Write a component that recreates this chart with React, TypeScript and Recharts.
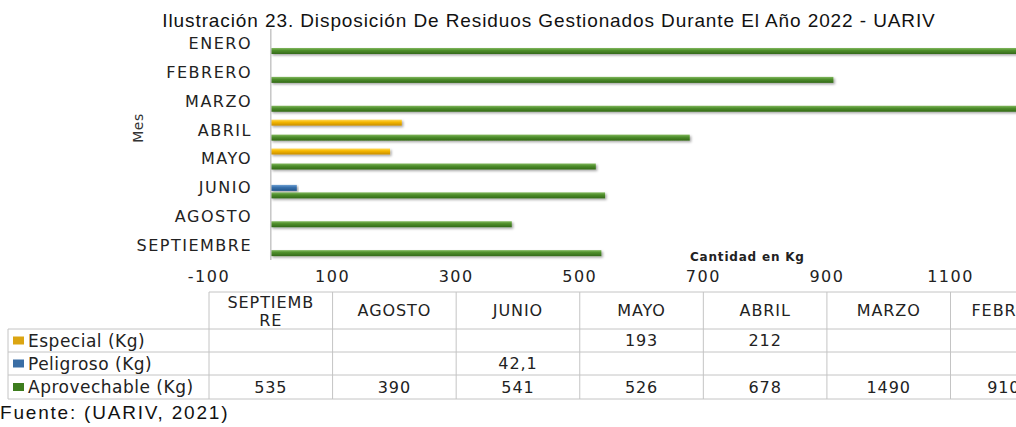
import React from 'react';
import { BarChart, Bar, XAxis, YAxis, ReferenceLine } from 'recharts';

// values (kg per month)
const months = ['ENERO', 'FEBRERO', 'MARZO', 'ABRIL', 'MAYO', 'JUNIO', 'AGOSTO', 'SEPTIEMBRE'];
const especial = [null, null, null, 212, 193, null, null, null];
const peligroso = [null, null, null, null, null, 42.1, null, null];
const aprovechable = [1400, 910.5, 1490, 678, 526, 541, 390, 535];
const xTicks = [-100, 100, 300, 500, 700, 900, 1100];

const series = [
  { key: 'especial', name: 'Especial (Kg)', values: especial, grad: 'gOrange', swatch: '#dba512' },
  { key: 'peligroso', name: 'Peligroso (Kg)', values: peligroso, grad: 'gBlue', swatch: '#3a6ea5' },
  { key: 'aprovechable', name: 'Aprovechable (Kg)', values: aprovechable, grad: 'gGreen', swatch: '#3d7d1e' },
];

const data = months.map((mes, i) => ({
  mes,
  especial: especial[i],
  peligroso: peligroso[i],
  aprovechable: aprovechable[i],
}));

const W = 1016;
const H = 427;
const PLOT_LEFT = 209;
const PLOT_TOP = 29;
const PLOT_H = 231;
const CHART_H = 300;
const X_MIN = -100;
const X_MAX = 1206;

const TICK_FONT = { fontFamily: '"DejaVu Sans", Verdana, sans-serif', fontSize: 16, fill: '#222', letterSpacing: 1.5 };

const fmt = (v: number | null) => (v == null ? '' : String(v).replace('.', ','));

const BarShape = (props: any) => {
  const { x, y, width, height, fill } = props;
  if (!width || width <= 0) return null;
  return <rect x={x} y={y} width={width} height={height} fill={fill} filter="url(#barShadow)" />;
};

const MonthTick = (props: any) => {
  const { x, y, payload } = props;
  return (
    <text x={x + 43} y={y} textAnchor="end" dominantBaseline="central" style={TICK_FONT as any}>
      {payload.value}
    </text>
  );
};

// data table under the chart, columns follow the x scale
const DataTable = () => {
  const colW = ((W - PLOT_LEFT) / (X_MAX - X_MIN)) * 200;
  const cols = [...months].reverse();
  const top = 292;
  const rows = [329, 352, 375, 399];
  const line = '#c4c4c4';
  const font = { fontFamily: '"DejaVu Sans", Verdana, sans-serif', fontSize: 16, fill: '#222', letterSpacing: 0.9 };
  const labelFont = { ...font, fontSize: 17, letterSpacing: 0.5 };
  return (
    <g>
      <line x1={PLOT_LEFT} x2={W} y1={top} y2={top} stroke={line} />
      {rows.map((ry) => (
        <line key={ry} x1={8} x2={W} y1={ry} y2={ry} stroke={line} />
      ))}
      <line x1={8} x2={8} y1={rows[0]} y2={rows[3]} stroke={line} />
      {cols.map((_, k) => (
        <line key={k} x1={PLOT_LEFT + k * colW} x2={PLOT_LEFT + k * colW} y1={top} y2={rows[3]} stroke={line} />
      ))}
      {cols.map((m, k) => {
        const cx = PLOT_LEFT + k * colW + colW / 2;
        const parts = m.length > 8 ? [m.slice(0, 8), m.slice(8)] : [m];
        return (
          <text key={m} x={cx} textAnchor="middle" style={font as any}>
            {parts.map((p, j) => (
              <tspan key={j} x={cx} y={parts.length > 1 ? 308 + j * 18 : 316}>
                {p}
              </tspan>
            ))}
          </text>
        );
      })}
      {series.map((s, r) => {
        const cy = (rows[r] + rows[r + 1]) / 2;
        return (
          <g key={s.key}>
            <rect x={13} y={cy - 4} width={11} height={8} fill={s.swatch} />
            <text x={28} y={cy} dominantBaseline="central" style={labelFont as any}>
              {s.name}
            </text>
            {cols.map((m, k) => {
              const v = s.values[months.indexOf(m)];
              return (
                <text
                  key={m}
                  x={PLOT_LEFT + k * colW + colW / 2}
                  y={cy}
                  textAnchor="middle"
                  dominantBaseline="central"
                  style={font as any}
                >
                  {fmt(v)}
                </text>
              );
            })}
          </g>
        );
      })}
    </g>
  );
};

export default function App() {
  return (
    <div style={{ position: 'absolute', left: 0, top: 0, width: W, height: H, overflow: 'hidden', background: '#fff' }}>
      <div style={{ position: 'absolute', left: 0, top: 0 }}>
        <BarChart
          width={W}
          height={CHART_H}
          data={data}
          layout="vertical"
          margin={{ top: PLOT_TOP, right: 0, bottom: 0, left: 0 }}
          barSize={6}
          barGap={1.5}
        >
          <defs>
            <linearGradient id="gGreen" x1="0" y1="0" x2="0" y2="1">
              <stop offset="0" stopColor="#82b85e" />
              <stop offset="0.4" stopColor="#4f8f2c" />
              <stop offset="1" stopColor="#336918" />
            </linearGradient>
            <linearGradient id="gOrange" x1="0" y1="0" x2="0" y2="1">
              <stop offset="0" stopColor="#ffd95a" />
              <stop offset="0.4" stopColor="#f6b800" />
              <stop offset="1" stopColor="#c78d00" />
            </linearGradient>
            <linearGradient id="gBlue" x1="0" y1="0" x2="0" y2="1">
              <stop offset="0" stopColor="#6f9fd2" />
              <stop offset="0.4" stopColor="#3a72ad" />
              <stop offset="1" stopColor="#23548a" />
            </linearGradient>
            <filter id="barShadow" x="-5%" y="-50%" width="110%" height="250%">
              <feDropShadow dx="1.5" dy="1.5" stdDeviation="1" floodColor="#000" floodOpacity="0.35" />
            </filter>
          </defs>
          <XAxis
            type="number"
            domain={[X_MIN, X_MAX]}
            ticks={xTicks}
            interval={0}
            allowDataOverflow
            axisLine={false}
            tickLine={false}
            tickSize={0}
            tickMargin={11}
            height={CHART_H - PLOT_TOP - PLOT_H}
            tick={TICK_FONT}
          />
          <YAxis
            type="category"
            dataKey="mes"
            width={PLOT_LEFT}
            axisLine={false}
            tickLine={false}
            tickSize={0}
            tickMargin={0}
            interval={0}
            tick={<MonthTick />}
          />
          <ReferenceLine x={0} stroke="#c6c6c6" strokeWidth={1.5} />
          {series.map((s) => (
            <Bar
              key={s.key}
              dataKey={s.key}
              name={s.name}
              fill={`url(#${s.grad})`}
              shape={<BarShape />}
              isAnimationActive={false}
            />
          ))}
        </BarChart>
      </div>
      <svg width={W} height={H} style={{ position: 'absolute', left: 0, top: 0, pointerEvents: 'none' }}>
        <text
          x={549}
          y={27}
          textAnchor="middle"
          style={{ fontFamily: '"Liberation Sans", Arial, sans-serif', fontSize: 19, fill: '#111', letterSpacing: 0.9 }}
        >
          Ilustración 23. Disposición De Residuos Gestionados Durante El Año 2022 - UARIV
        </text>
        <text
          x={143}
          y={128}
          textAnchor="middle"
          transform="rotate(-90 143 128)"
          style={{ fontFamily: '"DejaVu Sans", Verdana, sans-serif', fontSize: 14, fill: '#333', letterSpacing: 0.5 }}
        >
          Mes
        </text>
        <text
          x={690}
          y={261}
          style={{ fontFamily: '"DejaVu Sans", Verdana, sans-serif', fontSize: 12, fontWeight: 'bold', fill: '#222', letterSpacing: 0.8 }}
        >
          Cantidad en Kg
        </text>
        <DataTable />
        <text x={0} y={419} style={{ fontFamily: '"Liberation Sans", Arial, sans-serif', fontSize: 19, fill: '#111', letterSpacing: 1.8 }}>
          Fuente: (UARIV, 2021)
        </text>
      </svg>
    </div>
  );
}
